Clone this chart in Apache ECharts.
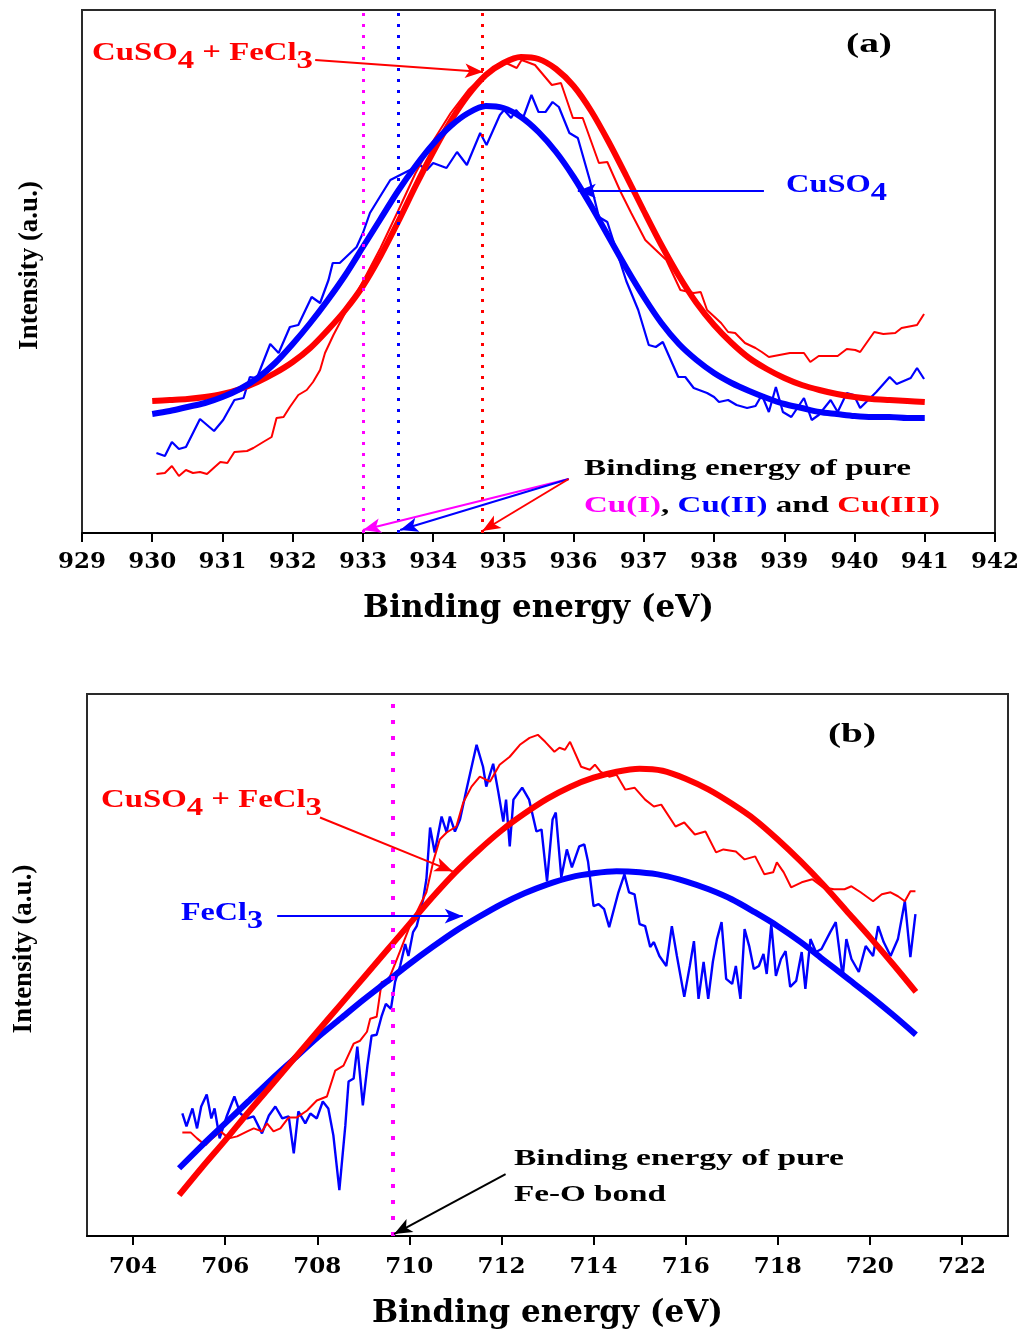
<!DOCTYPE html>
<html><head><meta charset="utf-8">
<script src="https://cdn.jsdelivr.net/npm/echarts/dist/echarts.min.js"></script>
<style>html,body{margin:0;padding:0;background:#fff}#c{width:1022px;height:1330px}</style>
</head><body><div id="c"></div>
<script>
// ---------------- Panel (a): Cu 2p XPS ----------------
const aFitE = [930,930.25,930.5,930.75,931,931.25,931.5,931.75,932,932.25,932.5,932.75,933,933.25,933.5,933.75,934,934.25,934.5,934.75,935,935.25,935.5,935.75,936,936.25,936.5,936.75,937,937.25,937.5,937.75,938,938.25,938.5,938.75,939,939.25,939.5,939.75,940,940.25,940.5,940.75,941];
const aRedFit = [132,133,134,136,139,144,151,160,171,185,203,223,247,277,311,347,381,412,438,458,470,476,474,464,447,422,391,357,322,288,257,230,208,190,175,164,155,148,143,139,136,134,133,132,131];
const aBlueFit = [119,122,126,130,136,144,155,170,189,210,233,258,286,314,342,367,389,407,420,427,425,416,401,381,356,327,296,265,236,210,189,173,160,150,142,135,129,125,121,119,117,116,116,115,115];

const aRedRawE = [930.06,930.18,930.28,930.38,930.48,930.58,930.68,930.78,930.89,930.97,931.07,931.17,931.35,931.44,931.58,931.70,931.77,931.87,931.96,932.08,932.20,932.29,932.39,932.46,932.58,932.67,932.77,932.91,933.01,933.25,933.5,933.75,934.0,934.25,934.5,934.65,934.80,935.04,935.19,935.26,935.45,935.69,935.82,935.99,936.13,936.36,936.48,936.67,936.82,937.02,937.32,937.52,937.71,937.81,937.90,938.10,938.20,938.30,938.44,938.59,938.68,938.78,938.93,939.08,939.28,939.37,939.49,939.76,939.89,940.01,940.08,940.28,940.41,940.58,940.67,940.89,940.99];
const aRedRawI = [59,60,67,57,63,60,61,59,66,71,70,81,82,85,91,96,115,116,126,138,143,151,163,180,198,210,223,240,253,285,322,360,392,420,443,453,461,470,465,473,468,448,450,415,415,370,371,341,320,293,273,243,240,241,223,210,201,200,190,185,181,176,178,180,180,171,177,177,184,183,181,201,199,200,205,208,219];

const aBlueRawE = [930.06,930.18,930.28,930.38,930.48,930.68,930.88,931.01,931.17,931.30,931.39,931.49,931.68,931.80,931.96,932.08,932.27,932.39,932.51,932.57,932.67,932.91,933.00,933.10,933.24,933.39,933.53,933.67,933.81,933.91,934.00,934.19,934.34,934.48,934.67,934.76,934.95,935.01,935.11,935.18,935.28,935.40,935.50,935.60,935.70,935.79,935.94,936.06,936.23,936.36,936.48,936.53,936.75,936.92,937.07,937.17,937.27,937.49,937.59,937.71,937.90,938.00,938.07,938.20,938.32,938.47,938.59,938.68,938.78,938.88,938.98,939.10,939.28,939.39,939.49,939.66,939.76,939.89,939.99,940.08,940.31,940.50,940.60,940.80,940.89,940.99];
const aBlueRawI = [80,77,91,84,86,114,102,113,133,135,156,155,189,180,206,208,236,230,253,270,270,286,300,320,336,353,358,363,368,363,370,365,381,368,400,388,418,423,415,423,415,438,421,421,431,426,400,395,353,316,311,300,252,223,188,186,191,156,156,145,140,136,131,133,128,125,127,138,121,146,121,116,135,113,118,133,121,140,138,125,141,156,149,155,165,154];

const aRefLines = [933.0, 933.5, 934.7];           // Cu(I), Cu(II), Cu(III)
const aTicks = [929,930,931,932,933,934,935,936,937,938,939,940,941,942];

// ---------------- Panel (b): Fe 2p XPS ----------------
const bFitE = [705,705.5,706,706.5,707,707.5,708,708.5,709,709.5,710,710.5,711,711.5,712,712.5,713,713.5,714,714.5,715,715.5,716,716.5,717,717.5,718,718.5,719,719.5,720,720.5,721];
const bRedFit = [41,69,96,124,151,178,205,232,259,286,313,340,365,387,407,424,439,451,460,466,469,467,459,448,434,418,398,376,352,326,300,273,245];
const bBlueFit = [68,91,113,135,157,178,199,218,237,255,273,290,306,320,333,344,353,360,364,366,365,362,356,348,338,325,311,295,277,259,241,222,202];

const bRedRawE = [705.07,705.25,705.39,705.57,705.72,705.90,706.08,706.26,706.48,706.62,706.80,706.91,707.05,707.20,707.38,707.56,707.78,707.99,708.21,708.39,708.57,708.79,708.93,709.08,709.15,709.29,709.40,709.54,709.73,709.90,710.01,710.37,710.52,710.66,710.81,711.02,711.17,711.35,711.53,711.75,711.96,712.18,712.40,712.61,712.79,712.95,713.15,713.26,713.38,713.49,713.73,713.92,714.03,714.15,714.34,714.50,714.69,714.89,715.12,715.31,715.47,715.78,715.97,716.20,716.43,716.66,716.82,717.09,717.28,717.51,717.71,717.90,717.98,718.13,718.29,718.52,718.75,718.98,719.22,719.45,719.60,719.80,720.07,720.26,720.45,720.61,720.76,720.88,720.99];
const bRedRawI = [104,104,98,91,98,105,98,100,105,108,105,113,105,108,119,119,126,136,140,166,171,193,196,205,218,220,255,256,278,298,311,345,376,398,405,411,435,451,461,456,473,481,493,500,503,496,486,490,488,496,471,468,473,466,461,463,448,450,438,431,433,411,415,403,406,385,388,386,378,381,363,365,375,365,350,355,358,350,348,348,351,345,336,343,345,341,336,346,346];

const bBlueRawE = [705.07,705.16,705.29,705.39,705.48,705.60,705.70,705.77,705.88,706.04,706.20,706.33,706.48,706.62,706.80,706.95,707.09,707.24,707.38,707.49,707.59,707.74,707.85,707.99,708.12,708.24,708.35,708.48,708.61,708.68,708.79,708.87,708.99,709.09,709.18,709.29,709.40,709.49,709.60,709.69,709.80,709.91,709.98,710.08,710.16,710.30,710.37,710.45,710.55,710.70,710.81,710.88,710.99,711.10,711.24,711.46,711.60,711.67,711.82,711.93,712.04,712.10,712.18,712.26,712.45,712.60,712.76,712.87,712.99,713.11,713.18,713.30,713.42,713.53,713.69,713.80,713.88,714.00,714.11,714.23,714.34,714.54,714.67,714.77,714.89,715.00,715.12,715.23,715.31,715.43,715.58,715.70,715.81,715.97,716.09,716.18,716.28,716.39,716.49,716.59,716.68,716.78,716.88,717.01,717.09,717.19,717.28,717.38,717.48,717.59,717.69,717.76,717.86,717.96,718.07,718.17,718.27,718.40,718.52,718.60,718.71,718.83,718.95,719.14,719.26,719.41,719.49,719.60,719.76,719.91,720.07,720.18,720.30,720.45,720.61,720.76,720.88,720.99];
const bBlueRawI = [123,110,128,108,130,142,118,128,98,121,140,123,118,120,103,121,130,118,120,83,125,113,123,118,135,128,101,46,111,155,158,190,131,171,201,202,221,233,228,255,271,293,281,305,311,338,358,410,385,421,405,421,406,418,448,493,471,451,474,446,416,438,391,438,450,438,406,408,356,418,425,360,388,370,391,393,376,331,333,328,310,345,363,345,343,313,311,290,295,281,271,311,281,240,271,296,238,275,238,275,298,315,258,253,271,238,308,291,268,271,283,263,313,261,278,286,250,256,285,248,298,285,288,305,315,260,298,278,265,291,281,311,295,281,298,336,280,323];

const bRefLines = [709.65];                         // pure Fe-O bond
const bTicks = [704,706,708,710,712,714,716,718,720,722];

// ---------------- build ----------------
const RED = '#ff0000', BLUE = '#0000ff', MAG = '#ff00ff', BLACK = '#000000';
const zip = (xs, ys) => xs.map((x, i) => [x, ys[i]]);

const axisFont = {fontFamily: 'DejaVu Serif', fontWeight: 'bold', color: '#000'};
function xAxisCfg(gi, min, max, ticks, margin, gap) {
  return {
    type: 'value', gridIndex: gi, min: min, max: max,
    splitLine: {show: false},
    axisLine: {show: true, onZero: false, lineStyle: {color: '#000', width: 2}},
    axisTick: {show: true, inside: false, length: 9, customValues: ticks, lineStyle: {color: '#000', width: 2}},
    axisLabel: Object.assign({fontSize: 23, margin: margin, customValues: ticks}, axisFont),
    name: 'Binding energy (eV)', nameLocation: 'middle', nameGap: gap,
    nameTextStyle: Object.assign({fontSize: 31}, axisFont)
  };
}
function yAxisCfg(gi, max, gap, shift) {
  return {
    type: 'value', gridIndex: gi, min: 0, max: max,
    axisLine: {show: false}, axisTick: {show: false}, axisLabel: {show: false}, splitLine: {show: false},
    name: 'Intensity (a.u.)', nameLocation: 'middle', nameGap: gap, nameRotate: 90,
    nameTextStyle: {fontFamily: 'Liberation Serif', fontWeight: 'bold', fontSize: 27, color: '#000', padding: [0, 0, 0, shift]}
  };
}
function lineS(name, gi, data, color, width, smooth, z) {
  return {name: name, type: 'line', xAxisIndex: gi, yAxisIndex: gi, data: data, showSymbol: false, symbol: 'none',
    smooth: smooth, lineStyle: {color: color, width: width}, itemStyle: {color: color}, z: z, silent: true, animation: false};
}
function arrow(p0, p1, color) {
  return [{coord: p0, symbol: 'none', lineStyle: {color: color, width: 2, type: 'solid'}},
          {coord: p1, symbol: 'arrow', symbolSize: [11, 18]}];
}
function vlines(vals, colors, dash, width) {
  return vals.map((v, i) => ({xAxis: v, lineStyle: {color: colors[i], type: dash, width: width}}));
}

const option = {
  animation: false,
  backgroundColor: '#fff',
  grid: [
    {left: 82, top: 10, width: 914, height: 523, show: true, borderColor: '#2a2a2a', borderWidth: 2, backgroundColor: 'transparent'},
    {left: 87, top: 694, width: 921, height: 544, show: true, borderColor: '#2a2a2a', borderWidth: 2, backgroundColor: 'transparent'}
  ],
  xAxis: [xAxisCfg(0, 929, 942, aTicks, 18, 60), xAxisCfg(1, 703, 723, bTicks, 20, 62)],
  yAxis: [yAxisCfg(0, 523, 38, 12), yAxisCfg(1, 544, 49, 32)],
  series: [
    // reference lines (dotted)
    Object.assign(lineS('refA', 0, [], '#000', 1, false, 1), {
      markLine: {silent: true, symbol: ['none', 'none'], label: {show: false},
        data: vlines(aRefLines, [MAG, BLUE, RED], [3, 8], 3)}}),
    Object.assign(lineS('refB', 1, [], '#000', 1, false, 1), {
      markLine: {silent: true, symbol: ['none', 'none'], label: {show: false},
        data: vlines(bRefLines, [MAG], [4, 12], 4)}}),
    // panel a
    lineS('CuSO4 raw', 0, zip(aBlueRawE, aBlueRawI), BLUE, 2.2, false, 2),
    lineS('CuSO4+FeCl3 raw', 0, zip(aRedRawE, aRedRawI), RED, 2, false, 2),
    lineS('CuSO4+FeCl3 fit', 0, zip(aFitE, aRedFit), RED, 6, 0.3, 3),
    lineS('CuSO4 fit', 0, zip(aFitE, aBlueFit), BLUE, 6, 0.3, 3),
    // panel b
    lineS('FeCl3 raw', 1, zip(bBlueRawE, bBlueRawI), BLUE, 2.4, false, 2),
    lineS('CuSO4+FeCl3 raw b', 1, zip(bRedRawE, bRedRawI), RED, 2, false, 2),
    lineS('FeCl3 fit', 1, zip(bFitE, bBlueFit), BLUE, 6, 0.3, 3),
    lineS('CuSO4+FeCl3 fit b', 1, zip(bFitE, bRedFit), RED, 6, 0.3, 3),
    // annotation arrows
    Object.assign(lineS('arrowsA', 0, [], '#000', 1, false, 5), {
      markLine: {silent: true, label: {show: false}, animation: false,
        data: [
          arrow([932.32, 473], [934.71, 461], RED),
          arrow([938.71, 342], [936.06, 342], BLUE),
          arrow([935.93, 54], [933.0, 3], MAG),
          arrow([935.93, 54], [933.53, 3], BLUE),
          arrow([935.93, 54], [934.70, 2], RED)
        ]}}),
    Object.assign(lineS('arrowsB', 1, [], '#000', 1, false, 5), {
      markLine: {silent: true, label: {show: false}, animation: false,
        data: [
          arrow([708.06, 420], [710.94, 366], RED),
          arrow([707.13, 321], [711.16, 321], BLUE),
          arrow([712.09, 62], [709.67, 2], BLACK)
        ]}})
  ]
};

const chart = echarts.init(document.getElementById('c'));
chart.setOption(option);

// ---------------- text annotations ----------------
const notes = [
  {text: '{n|CuSO}{s|4}{n| + FeCl}{s|3}', color: RED, size: 26, x: 92, y: 53, w: 221},
  {text: '{n|(a)}', color: BLACK, size: 28, x: 846, y: 45, w: 46},
  {text: '{n|CuSO}{s|4}', color: BLUE, size: 26, x: 786, y: 185, w: 101},
  {text: '{n|Binding energy of pure}', color: BLACK, size: 24, x: 584, y: 469, w: 327},
  {text: '{m|Cu(I)}{k|, }{b|Cu(II)}{k| and }{r|Cu(III)}', color: BLACK, size: 24, x: 584, y: 506, w: 356},
  {text: '{n|(b)}', color: BLACK, size: 28, x: 828, y: 735, w: 48},
  {text: '{n|CuSO}{s|4}{n| + FeCl}{s|3}', color: RED, size: 26, x: 101, y: 800, w: 221},
  {text: '{n|FeCl}{s|3}', color: BLUE, size: 26, x: 181, y: 913, w: 82},
  {text: '{n|Binding energy of pure}', color: BLACK, size: 24, x: 514, y: 1159, w: 330},
  {text: '{n|Fe-O bond}', color: BLACK, size: 24, x: 514, y: 1195, w: 152}
];
const mctx = document.createElement('canvas').getContext('2d');
function natWidth(str, size) {
  mctx.font = 'bold ' + size + 'px "Liberation Serif"';
  return mctx.measureText(str).width;
}
const graphics = notes.map(n => {
  const plain = n.text.replace(/\{[a-z]+\|/g, '').replace(/\}/g, '');
  const base = {fontSize: n.size, fontFamily: 'Liberation Serif', fontWeight: 'bold', lineHeight: n.size + 3};
  const rich = {
    n: Object.assign({fill: n.color}, base),
    s: Object.assign({fill: n.color, padding: [17, 0, 0, 0]}, base),
    m: Object.assign({fill: MAG}, base),
    b: Object.assign({fill: BLUE}, base),
    k: Object.assign({fill: BLACK}, base),
    r: Object.assign({fill: RED}, base)
  };
  return {
    type: 'text', x: n.x, y: n.y, scaleX: n.w / natWidth(plain, n.size), z: 100, silent: true,
    style: {text: n.text, rich: rich, fill: n.color, fontSize: n.size, fontFamily: 'Liberation Serif',
      fontWeight: 'bold', align: 'left', verticalAlign: 'middle'}
  };
});
chart.setOption({graphic: graphics});
</script></body></html>
